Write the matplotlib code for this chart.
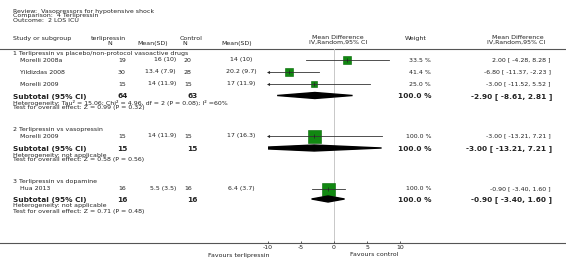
import matplotlib
matplotlib.use("Agg")
import matplotlib.pyplot as plt
import numpy as np

# study level data
studies = ["Morelli 2008a", "Yildizdas 2008", "Morelli 2009", "Morelli 2009", "Hua 2013"]
study_group = [0, 0, 0, 1, 2]
terl_n = [19, 30, 15, 15, 16]
terl_msd = ["16 (10)", "13.4 (7.9)", "14 (11.9)", "14 (11.9)", "5.5 (3.5)"]
ctrl_n = [20, 28, 15, 15, 16]
ctrl_msd = ["14 (10)", "20.2 (9.7)", "17 (11.9)", "17 (16.3)", "6.4 (3.7)"]
md = [2.00, -6.80, -3.00, -3.00, -0.90]
md_lo = [-4.28, -11.37, -11.52, -13.21, -3.40]
md_hi = [8.28, -2.23, 5.52, 7.21, 1.60]
weight = [33.5, 41.4, 25.0, 100.0, 100.0]

# subgroup data
groups = ["1 Terlipressin vs placebo/non-protocol vasoactive drugs",
          "2 Terlipressin vs vasopressin",
          "3 Terlipressin vs dopamine"]
sub_terl_n = [64, 15, 16]
sub_ctrl_n = [63, 15, 16]
sub_md = [-2.90, -3.00, -0.90]
sub_lo = [-8.61, -13.21, -3.40]
sub_hi = [2.81, 7.21, 1.60]
sub_het = ["Heterogeneity: Tau\u00b2 = 15.06; Chi\u00b2 = 4.96, df = 2 (P = 0.08); I\u00b2 =60%",
           "Heterogeneity: not applicable",
           "Heterogeneity: not applicable"]
sub_test = ["Test for overall effect: Z = 0.99 (P = 0.32)",
            "Test for overall effect: Z = 0.58 (P = 0.56)",
            "Test for overall effect: Z = 0.71 (P = 0.48)"]
xticks = [-10, -5, 0, 5, 10]

# row layout (pixel rows)
group_y = [53.5, 130, 181]
study_y = [60, 72, 84, 136, 188.5]
sub_y = [96.5, 149, 200]
W, H = 566, 273
AXIS_Y = 243
TXT = "#222222"
FS = 4.5
FSB = 5.3

fig = plt.figure(figsize=(W / 100, H / 100), dpi=100)
ax = fig.add_axes([0, 0, 1, 1])
ax.set_xlim(0, W)
ax.set_ylim(H, 0)
ax.axis("off")


def txt(x, y, s, ha="left", bold=False, size=None):
    ax.text(x, y, s, ha=ha, va="center", color=TXT,
            fontsize=size or (FSB if bold else FS),
            fontweight="bold" if bold else "normal")


txt(13, 11.5, "Review:  Vasopressors for hypotensive shock")
txt(13, 16, "Comparison:  4 Terlipressin")
txt(13, 20.5, "Outcome:  2 LOS ICU")

txt(13, 38.5, "Study or subgroup")
txt(91, 38.5, "terlipressin")
txt(110, 43.5, "N", ha="center")
txt(153, 43.5, "Mean(SD)", ha="center")
txt(180, 38.5, "Control")
txt(185, 43.5, "N", ha="center")
txt(237, 43.5, "Mean(SD)", ha="center")
txt(338, 37.5, "Mean Difference", ha="center")
txt(338, 42.5, "IV,Random,95% CI", ha="center")
txt(416, 38.5, "Weight", ha="center")
txt(518, 37.5, "Mean Difference", ha="center")
txt(516, 42.5, "IV,Random,95% CI", ha="center")

ax.plot([0, W], [49, 49], color="#555555", lw=0.8)
ax.plot([0, W], [AXIS_Y, AXIS_Y], color="#555555", lw=0.8)

for g, name in enumerate(groups):
    txt(13, group_y[g], name)
    txt(13, sub_y[g], "Subtotal (95% CI)", bold=True)
    txt(117, sub_y[g], str(sub_terl_n[g]), bold=True)
    txt(187, sub_y[g], str(sub_ctrl_n[g]), bold=True)
    txt(432, sub_y[g], "100.0 %", ha="right", bold=True)
    txt(552, sub_y[g], "%.2f [ %.2f, %.2f ]" % (sub_md[g], sub_lo[g], sub_hi[g]),
        ha="right", bold=True)
    txt(13, sub_y[g] + 6, sub_het[g])
    txt(13, sub_y[g] + 11, sub_test[g])

for i, s in enumerate(studies):
    y = study_y[i]
    txt(20, y, s)
    txt(118, y, str(terl_n[i]))
    txt(176, y, terl_msd[i], ha="right")
    txt(184, y, str(ctrl_n[i]))
    txt(241, y, ctrl_msd[i], ha="center")
    txt(431, y, "%.1f %%" % weight[i], ha="right")
    txt(551, y, "%.2f [ %.2f, %.2f ]" % (md[i], md_lo[i], md_hi[i]), ha="right")

txt(269, 255, "Favours terlipressin", ha="right")
txt(350, 255, "Favours control")

# forest plot axes: x in mean difference units, y in pixel rows
x0, x1 = 268, 400
fx = fig.add_axes([x0 / W, (H - AXIS_Y) / H, (x1 - x0) / W, AXIS_Y / H])
fx.patch.set_visible(False)
fx.set_xlim(-10, 10)
fx.set_ylim(AXIS_Y, 0)
for sp in fx.spines.values():
    sp.set_visible(False)
fx.set_yticks([])
fx.set_xticks(xticks)
fx.set_xticklabels([str(t) for t in xticks])
fx.tick_params(axis="x", direction="in", length=1.8, width=0.6, color="#444444",
               labelsize=FS, labelcolor=TXT, pad=1.5)

fx.plot([0, 0], [49, AXIS_Y], color="#c8c8c8", lw=0.7, zorder=1)

for i in range(len(studies)):
    y = study_y[i]
    lo = max(md_lo[i], -10)
    hi = min(md_hi[i], 10)
    side = 13 * np.sqrt(weight[i] / 100.0) * 0.72
    fx.scatter([md[i]], [y], marker="s", s=side ** 2, color="#118811",
               edgecolor="#006600", linewidth=0.4, zorder=2)
    fx.plot([lo, hi], [y, y], color="#333333", lw=0.6, zorder=3, clip_on=False)
    fx.plot([md[i]], [y], marker="|", ms=2.5, mew=0.5, color="#222222", zorder=4)
    if md_lo[i] < -10:
        fx.plot([-10], [y], marker="<", ms=2.2, color="#222222", mew=0, zorder=4,
                clip_on=False)

for g in range(len(groups)):
    y = sub_y[g] - 1
    dx = [sub_lo[g], sub_md[g], sub_hi[g], sub_md[g]]
    dy = [y, y - 3, y, y + 3]
    fx.fill(dx, dy, color="black", zorder=3)

fig.savefig("out.png", dpi=100)
